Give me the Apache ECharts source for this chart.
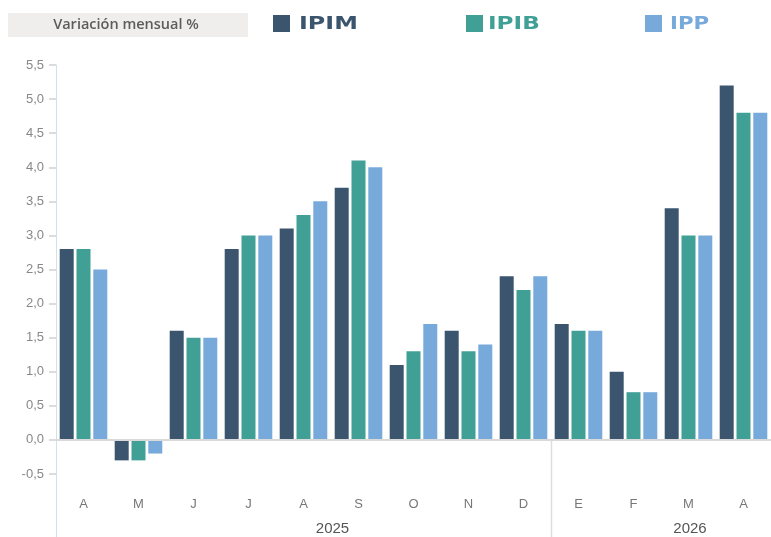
<!DOCTYPE html>
<html><head><meta charset="utf-8">
<script src="https://cdn.jsdelivr.net/npm/echarts@6/dist/echarts.min.js"></script>
<style>html,body{margin:0;padding:0;background:#fff}#c{width:771px;height:537px}</style>
</head><body><div id="c"></div>
<script>
const months = ['A','M','J','J','A','S','O','N','D','E','F','M','A'];
const years = [{label:'2025', from:0, to:8}, {label:'2026', from:9, to:12}];
const ipim = [2.8,-0.3,1.6,2.8,3.1,3.7,1.1,1.6,2.4,1.7,1.0,3.4,5.2];
const ipib = [2.8,-0.3,1.5,3.0,3.3,4.1,1.3,1.3,2.2,1.6,0.7,3.0,4.8];
const ipp  = [2.5,-0.2,1.5,3.0,3.5,4.0,1.7,1.4,2.4,1.6,0.7,3.0,4.8];
const seriesNames = ['IPIM','IPIB','IPP'];
const colors = ['#3b556e','#40a096','#77aadb'];
const yTitle = 'Variación mensual %';

const chart = echarts.init(document.getElementById('c'), null, {renderer:'canvas'});
const legendLefts = [273, 466, 645];
const legendTextX = [299, 488, 670];
const legendScale = [1.40, 1.36, 1.25];
const legends = seriesNames.map((n,i)=>({
  left: legendLefts[i], top: 15, padding:0, data:[{name:n}],
  icon:'rect', itemWidth:17, itemHeight:17, itemGap:0,
  formatter: ()=>'', textStyle:{fontSize:1, padding:0},
  selectedMode:false
}));
const option = {
  animation:false,
  color: colors,
  grid:{left:56, right:0, top:65, bottom:63, containLabel:false},
  legend: legends,
  xAxis:{type:'category', data:months, axisLine:{show:false, onZero:false}, axisTick:{show:false},
    axisLabel:{color:'#777', fontFamily:'Liberation Sans', fontSize:13, margin:24}},
  yAxis:{type:'value', min:-0.5, max:5.5, interval:0.5,
    axisLine:{show:true, lineStyle:{color:'#cfe2e8', width:1}},
    axisTick:{show:true, length:7, lineStyle:{color:'#dcdcdc', width:2}},
    splitLine:{show:false},
    axisLabel:{color:'#888', fontFamily:'Liberation Sans', fontSize:13, margin:12,
      formatter:v=>v.toFixed(1).replace('.',',')}},
  series:[ipim,ipib,ipp].map((d,i)=>({
    name:seriesNames[i], type:'bar', data:d, barWidth:14, barGap:'20%',
    itemStyle:{color:colors[i]},
    markLine: i===0 ? {silent:true, symbol:'none', label:{show:false},
      lineStyle:{color:'#d9d9d9', width:2, type:'solid'}, data:[{yAxis:0}]} : undefined
  }))
};
chart.setOption(option);

function px(ix, v){ return chart.convertToPixel({xAxisIndex:0, yAxisIndex:0}, [ix, v]); }
const catW = px(1,0)[0]-px(0,0)[0];
const zeroY = px(0,0)[1];
const bottomY = px(0,-0.5)[1];
const g = [];
// title box
g.push({type:'rect', shape:{x:8,y:13,width:240,height:24}, style:{fill:'#efeeec'}, silent:true});
g.push({type:'text', x:126, y:25, style:{text:yTitle, fill:'#5c5c5c', font:'600 14.5px "Open Sans"', textAlign:'center', textVerticalAlign:'middle'}, silent:true});
// legend labels (wide display face emulated with horizontal scale)
seriesNames.forEach((n,i)=>{
  g.push({type:'text', x:legendTextX[i], y:24.5, scaleX:legendScale[i], scaleY:1, originX:0, originY:0,
    style:{text:n, fill:colors[i], font:'bold 17px "DejaVu Sans"', align:'left', verticalAlign:'middle'}, silent:true});
});
// axis extension below grid
const axisX = Math.round(px(0,0)[0]-catW/2);
g.push({type:'line', shape:{x1:axisX+0.5, y1:bottomY, x2:axisX+0.5, y2:537}, style:{stroke:'#cfe2e8', lineWidth:1}, silent:true});
// year separator
years.slice(1).forEach(y=>{
  const sx = Math.round(px(y.from,0)[0]-catW/2)+0.5;
  g.push({type:'line', shape:{x1:sx, y1:zeroY, x2:sx, y2:537}, style:{stroke:'#dddddd', lineWidth:1.5}, silent:true});
});
// year labels
years.forEach(y=>{
  const cx = (px(y.from,0)[0]+px(y.to,0)[0])/2 + 29;
  g.push({type:'text', x:cx, y:529, style:{text:y.label, fill:'#555', font:'15px "Liberation Sans"', textAlign:'center', textVerticalAlign:'middle'}, silent:true});
});
chart.setOption({graphic:g});
</script></body></html>
